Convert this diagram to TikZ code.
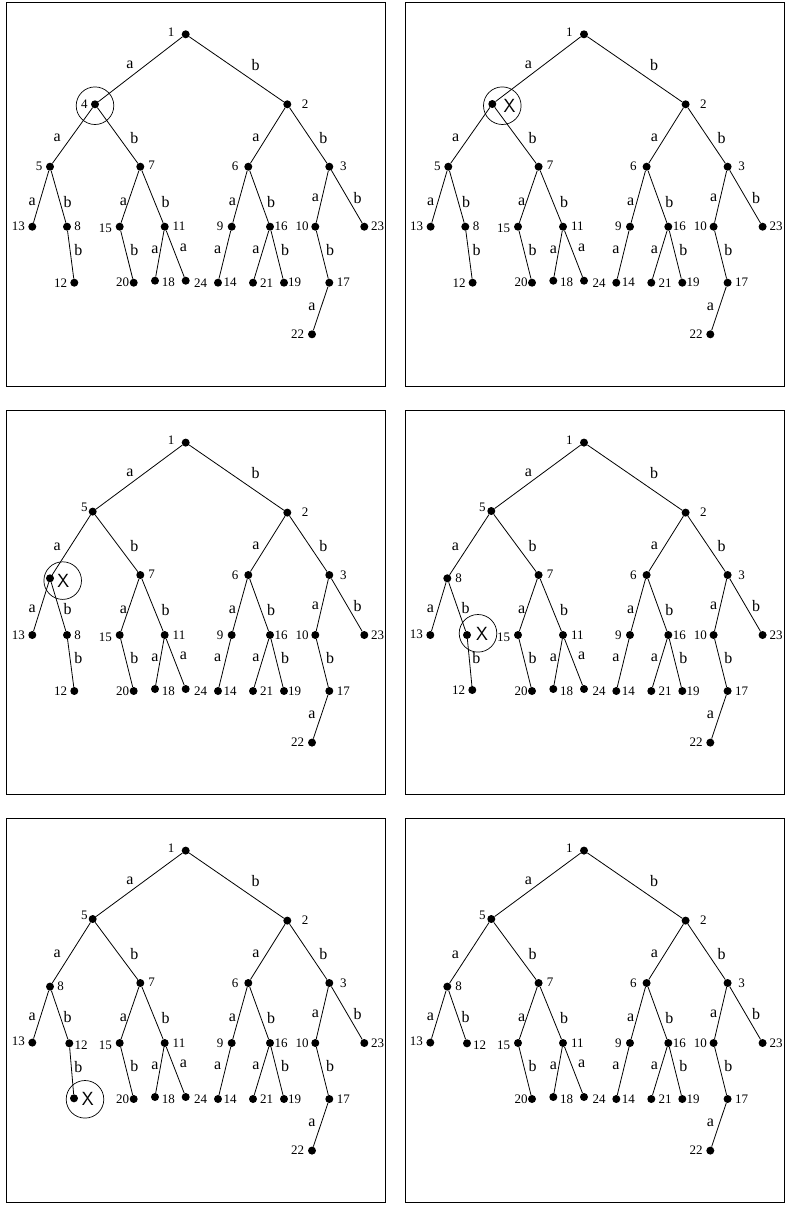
\documentclass[tikz,border=0pt]{standalone}
\usepackage{fontspec}
\setmainfont{Liberation Serif}
\tikzset{
  dot/.style={circle,fill=black,inner sep=0pt,minimum size=8pt},
  num/.style={font=\fontsize{13}{13}\selectfont,inner sep=0pt},
  elab/.style={font=\fontsize{16}{16}\selectfont,inner sep=0pt},
  edge/.style={line width=0.8pt},
  panelframe/.style={draw,line width=1pt},
  ring/.style={draw,circle,line width=0.7pt,minimum size=37.6pt,inner sep=0pt},
  xmark/.style={font=\sffamily\fontsize{19}{19}\selectfont,inner sep=0pt},
}
% dot node: name, x, y
\newcommand\dotat[3]{\node[dot] (#1) at (#2,#3) {};}
% number label: name, x, y, text
\newcommand\numat[4]{\node[num] (#1) at (#2,#3) {#4};}
% labelled edge: from, to, x, y, label
\newcommand\tedge[5]{\draw[edge] (#1) -- (#2); \node[elab] (e-#1-#2) at (#3,#4) {#5};}
\newcommand\commonpart{%
  \dotat{n1}{185.7}{34.3}\numat{t1}{171}{32.3}{1}
  \dotat{n2}{287.3}{104.3}\numat{t2}{305}{104.3}{2}
  \dotat{n7}{140.3}{166.7}\numat{t7}{151.7}{165.7}{7}
  \dotat{n6}{248.3}{166.7}\numat{t6}{235}{166.7}{6}
  \dotat{n3}{329.3}{166.7}\numat{t3}{343.3}{166.7}{3}
  \dotat{n15}{119.7}{226.7}\numat{t15}{105.3}{228.7}{15}
  \dotat{n11}{164.7}{226.7}\numat{t11}{179}{226.7}{11}
  \dotat{n9}{231.7}{226.7}\numat{t9}{220}{226.7}{9}
  \dotat{n16}{270}{226.7}\numat{t16}{281}{226.7}{16}
  \dotat{n10}{315.3}{226.7}\numat{t10}{302}{226.7}{10}
  \dotat{n23}{364.3}{226.7}\numat{t23}{377.7}{226.7}{23}
  \dotat{n20}{133.7}{282.7}\numat{t20}{122.7}{282.7}{20}
  \dotat{n18}{155}{280.7}\numat{t18}{168.3}{282.7}{18}
  \dotat{n24}{185.7}{280.7}\numat{t24}{200.7}{282.7}{24}
  \dotat{n14}{218}{282.7}\numat{t14}{230}{282.7}{14}
  \dotat{n21}{253}{282.7}\numat{t21}{266.7}{282.7}{21}
  \dotat{n19}{284}{282.7}\numat{t19}{294.7}{282.7}{19}
  \dotat{n17}{329.3}{282.7}\numat{t17}{343.3}{282.7}{17}
  \dotat{n22}{312}{334.3}\numat{t22}{297.7}{334.3}{22}
  \tedge{n1}{L}{130}{65}{a}
  \tedge{n1}{n2}{255.7}{65}{b}
  \tedge{L}{n7}{134.3}{137.7}{b}
  \tedge{n2}{n6}{256}{137.7}{a}
  \tedge{n2}{n3}{323.3}{137.7}{b}
  \tedge{n7}{n15}{123.3}{201.7}{a}
  \tedge{n7}{n11}{165.7}{201.7}{b}
  \tedge{n6}{n9}{232.3}{201.7}{a}
  \tedge{n6}{n16}{271}{201.7}{b}
  \tedge{n3}{n10}{315.3}{197.7}{a}
  \tedge{n3}{n23}{357.7}{197.7}{b}
  \tedge{n15}{n20}{134.3}{250}{b}
  \tedge{n11}{n18}{155}{250}{a}
  \tedge{n11}{n24}{183.3}{247.7}{a}
  \tedge{n9}{n14}{217.7}{250}{a}
  \tedge{n16}{n21}{256}{250}{a}
  \tedge{n16}{n19}{285}{250}{b}
  \tedge{n10}{n17}{330}{250}{b}
  \tedge{n17}{n22}{312}{306.7}{a}
  \node[panelframe,minimum width=379pt,minimum height=383.7pt,inner sep=0pt] (fr) at (196.2,194.15) {};
}
\begin{document}
\begin{tikzpicture}[x=1pt,y=-1pt]
\useasboundingbox (0,0) rectangle (785,1205);
% Panel 1
\begin{scope}[name prefix=pa-]
  \dotat{L}{95}{104.3}\numat{t4}{84.3}{104.3}{4}
  \node[ring] (rg) at (95,105.7) {};
  \dotat{n5}{50}{166.7}\numat{t5}{39}{166.7}{5}
  \dotat{n13}{32.3}{226.7}\numat{t13}{18.3}{226.7}{13}
  \dotat{n8}{67}{226.7}\numat{t8}{77.7}{226.7}{8}
  \dotat{n12}{74.3}{282.7}\numat{t12}{60.7}{282.7}{12}
  \tedge{L}{n5}{57.3}{137.7}{a}
  \tedge{n5}{n13}{32.3}{201.7}{a}
  \tedge{n5}{n8}{67.7}{201.7}{b}
  \tedge{n8}{n12}{78.3}{250}{b}
  \commonpart
\end{scope}
% Panel 2
\begin{scope}[shift={(398.3,0)},name prefix=pb-]
  \dotat{L}{94}{104}
  \node[ring] (rg) at (104,105.7) {};
  \node[xmark] (xm) at (111.3,106) {X};
  \dotat{n5}{50}{166.7}\numat{t5}{39}{166.7}{5}
  \dotat{n13}{32.3}{226.7}\numat{t13}{18.3}{226.7}{13}
  \dotat{n8}{67}{226.7}\numat{t8}{77.7}{226.7}{8}
  \dotat{n12}{74.3}{282.7}\numat{t12}{60.7}{282.7}{12}
  \tedge{L}{n5}{57.3}{137.7}{a}
  \tedge{n5}{n13}{32.3}{201.7}{a}
  \tedge{n5}{n8}{67.7}{201.7}{b}
  \tedge{n8}{n12}{78.3}{250}{b}
  \commonpart
\end{scope}
% Panel 3
\begin{scope}[shift={(0,408.3)},name prefix=pc-]
  \dotat{L}{92.7}{103.3}\numat{t5}{84.3}{98.5}{5}
  \dotat{xd}{50}{170}
  \node[ring] (rg) at (62.7,172.3) {};
  \node[xmark] (xm) at (63.3,172.3) {X};
  \dotat{n13}{32.3}{226.7}\numat{t13}{18.3}{226.7}{13}
  \dotat{n8}{67}{226.7}\numat{t8}{77.7}{226.7}{8}
  \dotat{n12}{74.3}{282.7}\numat{t12}{60.7}{282.7}{12}
  \tedge{L}{xd}{57.3}{138.3}{a}
  \tedge{xd}{n13}{32.3}{200.7}{a}
  \tedge{xd}{n8}{67.7}{200.7}{b}
  \tedge{n8}{n12}{78.3}{250}{b}
  \commonpart
\end{scope}
% Panel 4
\begin{scope}[shift={(398.3,408.3)},name prefix=pd-]
  \dotat{L}{93}{102.7}\numat{t5}{84}{98.5}{5}
  \dotat{n8}{49}{170}\numat{t8}{60.3}{170}{8}
  \dotat{n13}{32}{226.7}\numat{t13}{18}{226}{13}
  \dotat{xd}{68.7}{226.7}
  \node[ring] (rg) at (79.7,225) {};
  \node[xmark] (xm) at (83.7,226) {X};
  \dotat{n12}{74}{281.7}\numat{t12}{60.3}{281.7}{12}
  \tedge{L}{n8}{57}{138.3}{a}
  \tedge{n8}{n13}{32}{200.7}{a}
  \tedge{n8}{xd}{67.3}{199.3}{b}
  \tedge{xd}{n12}{78}{250}{b}
  \commonpart
\end{scope}
% Panel 5
\begin{scope}[shift={(0,816.3)},name prefix=pe-]
  \dotat{L}{92.7}{102.7}\numat{t5}{84.3}{99.2}{5}
  \dotat{n8}{50}{170.3}\numat{t8}{60.7}{170.3}{8}
  \dotat{n13}{32.3}{226.3}\numat{t13}{18.3}{225}{13}
  \dotat{n12}{69.3}{227}\numat{t12}{81}{228.7}{12}
  \dotat{xd}{74}{282}
  \node[ring] (rg) at (85,283) {};
  \node[xmark] (xm) at (87.7,283) {X};
  \tedge{L}{n8}{57.3}{138}{a}
  \tedge{n8}{n13}{32.3}{201}{a}
  \tedge{n8}{n12}{67.7}{201}{b}
  \tedge{n12}{xd}{78.3}{250.3}{b}
  \commonpart
\end{scope}
% Panel 6
\begin{scope}[shift={(398.3,816.3)},name prefix=pf-]
  \dotat{L}{93}{102.7}\numat{t5}{84}{98.7}{5}
  \dotat{n8}{49}{170.3}\numat{t8}{60.3}{170.3}{8}
  \dotat{n13}{32}{226.3}\numat{t13}{18}{225}{13}
  \dotat{n12}{68.7}{227}\numat{t12}{81.3}{228.7}{12}
  \tedge{L}{n8}{57}{138.7}{a}
  \tedge{n8}{n13}{32}{201}{a}
  \tedge{n8}{n12}{67.3}{201}{b}
  \commonpart
\end{scope}
\end{tikzpicture}
\end{document}
